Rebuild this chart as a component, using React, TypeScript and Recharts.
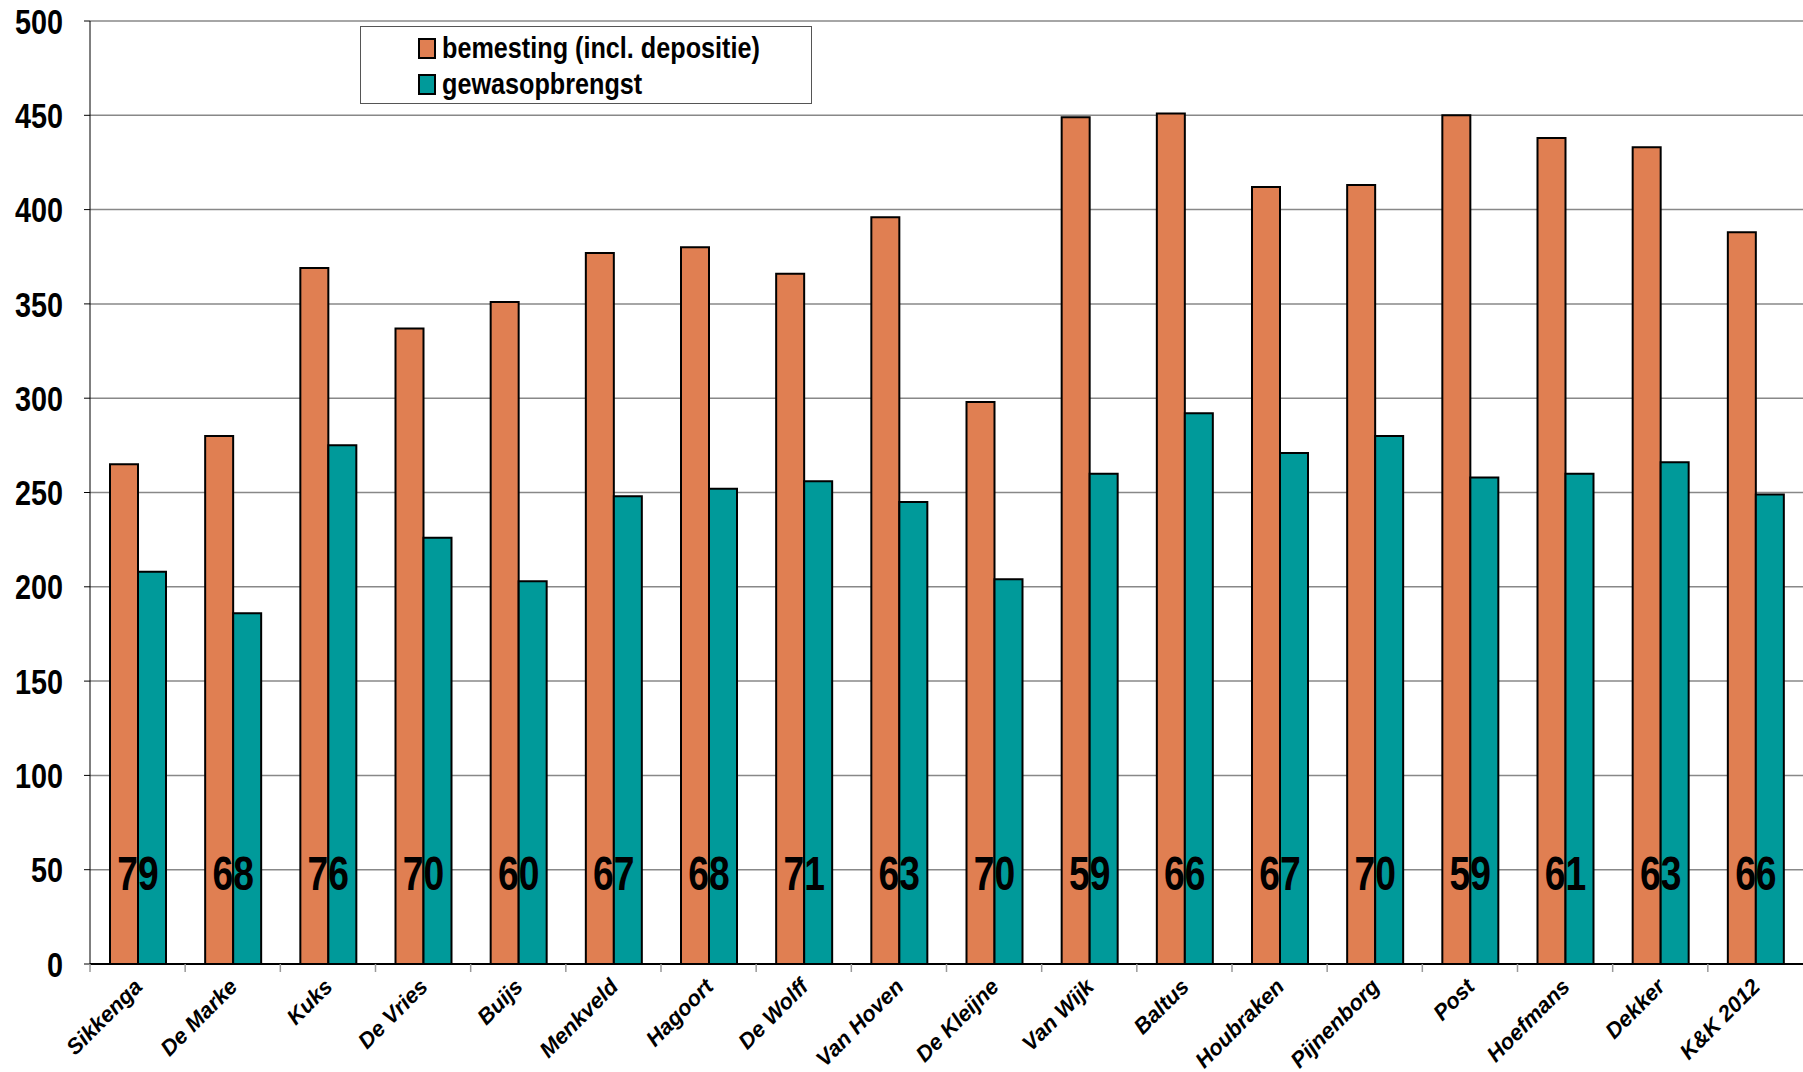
import React from 'react';
import { BarChart, Bar, XAxis, YAxis, CartesianGrid, LabelList } from 'recharts';

const categories = [
  'Sikkenga', 'De Marke', 'Kuks', 'De Vries', 'Buijs', 'Menkveld', 'Hagoort', 'De Wolff', 'Van Hoven',
  'De Kleijne', 'Van Wijk', 'Baltus', 'Houbraken', 'Pijnenborg', 'Post', 'Hoefmans', 'Dekker', 'K&K 2012',
];
const bemesting = [265, 280, 369, 337, 351, 377, 380, 366, 396, 298, 449, 451, 412, 413, 450, 438, 433, 388];
const gewasopbrengst = [208, 186, 275, 226, 203, 248, 252, 256, 245, 204, 260, 292, 271, 280, 258, 260, 266, 249];
const benutting = [79, 68, 76, 70, 60, 67, 68, 71, 63, 70, 59, 66, 67, 70, 59, 61, 63, 66];
const yTicks = [0, 50, 100, 150, 200, 250, 300, 350, 400, 450, 500];

const data = categories.map((name, i) => ({
  name,
  bemesting: bemesting[i],
  gewas: gewasopbrengst[i],
  pct: benutting[i],
}));

const W = 1803;
const H = 1072;
const Y_AXIS_W = 90;
const LABEL_LEVEL = 48;
const ORANGE = '#E07F52';
const TEAL = '#009A9A';
const FONT = '"Liberation Sans", Arial, sans-serif';

// Arial Narrow isn't installed, so squeeze Liberation Sans horizontally
const NarrowText = ({ x, y, size, scale, anchor, children }: any) => (
  <text
    x={x / scale}
    y={y}
    transform={`scale(${scale}, 1)`}
    textAnchor={anchor}
    dominantBaseline="central"
    fontFamily={FONT}
    fontWeight="bold"
    fontSize={size}
    fill="#000"
  >
    {children}
  </text>
);

const XTick = (props: any) => {
  const { x, y, payload } = props;
  const band = (W - Y_AXIS_W) / categories.length;
  return (
    <g>
      <line x1={x - band / 2} x2={x - band / 2} y1={y} y2={y + 8} stroke="#999" strokeWidth={1.5} />
      <text
        x={x + 6}
        y={y + 24}
        transform={`rotate(-45, ${x + 6}, ${y + 24})`}
        textAnchor="end"
        fontFamily={FONT}
        fontWeight="bold"
        fontStyle="italic"
        fontSize={22}
        fill="#000"
      >
        {payload.value}
      </text>
    </g>
  );
};

const YTick = (props: any) => {
  const { x, y, payload } = props;
  return (
    <NarrowText x={x} y={y} size={36} scale={0.8} anchor="end">
      {payload.value}
    </NarrowText>
  );
};

const PctLabel = (props: any) => {
  const { x, y, width, height, value, index } = props;
  const bottom = y + height;
  const ly = bottom - (height * LABEL_LEVEL) / bemesting[index];
  return (
    <NarrowText x={x + width} y={ly} size={49} scale={0.76} anchor="middle">
      {value}
    </NarrowText>
  );
};

const legendItems = [
  { label: 'bemesting (incl. depositie)', color: ORANGE },
  { label: 'gewasopbrengst', color: TEAL },
];

const LegendBox = () => (
  <div
    style={{
      position: 'absolute',
      left: 360,
      top: 26,
      width: 452,
      height: 78,
      border: '1px solid #555',
      boxSizing: 'border-box',
      background: '#fff',
      fontFamily: FONT,
      fontWeight: 'bold',
      fontSize: 30,
      paddingLeft: 57,
      paddingTop: 3,
    }}
  >
    {legendItems.map((item) => (
      <div key={item.label} style={{ display: 'flex', alignItems: 'center', height: 36, whiteSpace: 'nowrap' }}>
        <span
          style={{
            display: 'inline-block',
            width: 14,
            height: 17,
            background: item.color,
            border: '2px solid #000',
            marginRight: 6,
            flexShrink: 0,
          }}
        />
        <span style={{ display: 'inline-block', transform: 'scaleX(0.84)', transformOrigin: 'left center' }}>
          {item.label}
        </span>
      </div>
    ))}
  </div>
);

export default function App() {
  return (
    <div style={{ position: 'absolute', left: 0, top: 0, width: W, height: H, background: '#fff' }}>
      <BarChart
        width={W}
        height={H}
        data={data}
        margin={{ top: 21, right: 0, left: 0, bottom: 0 }}
        barSize={28}
        barGap={0}
      >
        <CartesianGrid vertical={false} stroke="#888" strokeWidth={1.5} />
        <XAxis
          dataKey="name"
          height={108}
          interval={0}
          tickLine={false}
          tickSize={0}
          tickMargin={0}
          axisLine={{ stroke: '#000', strokeWidth: 2 }}
          tick={<XTick />}
        />
        <YAxis
          width={Y_AXIS_W}
          domain={[0, 500]}
          ticks={yTicks}
          interval={0}
          tickSize={6}
          tickMargin={21}
          tickLine={{ stroke: '#000' }}
          axisLine={{ stroke: '#000', strokeWidth: 1 }}
          tick={<YTick />}
        />
        <Bar dataKey="bemesting" fill={ORANGE} stroke="#000" strokeWidth={2} isAnimationActive={false}>
          <LabelList dataKey="pct" content={<PctLabel />} />
        </Bar>
        <Bar dataKey="gewas" fill={TEAL} stroke="#000" strokeWidth={2} isAnimationActive={false} />
      </BarChart>
      <LegendBox />
    </div>
  );
}
